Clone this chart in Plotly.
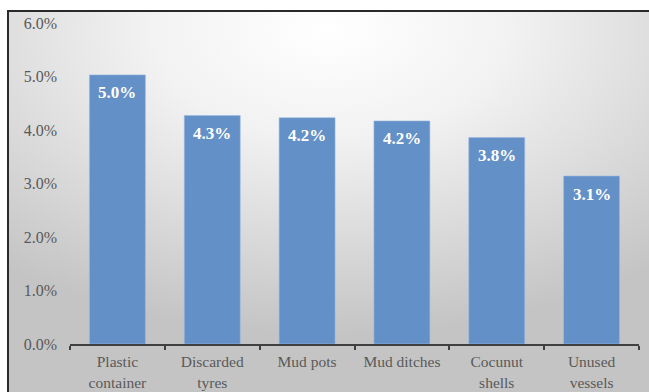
import base64
import plotly.graph_objects as go

categories = ["Plastic<br>container", "Discarded<br>tyres", "Mud pots", "Mud ditches", "Cocunut<br>shells", "Unused<br>vessels"]
values = [5.03, 4.27, 4.23, 4.17, 3.86, 3.14]
labels = ["5.0%", "4.3%", "4.2%", "4.2%", "3.8%", "3.1%"]
y_ticks = [0, 1, 2, 3, 4, 5, 6]
y_ticktext = ["0.0%", "1.0%", "2.0%", "3.0%", "4.0%", "5.0%", "6.0%"]

W, H = 649, 392
L, R, T, B = 70, 10, 23, 48
pw, ph = W - L - R, H - T - B

def px_to_paper_x(px):
    return (px - L) / pw

def px_to_paper_y(py):
    return (H - B - py) / ph

svg = (
    '<svg xmlns="http://www.w3.org/2000/svg" width="641" height="381" preserveAspectRatio="none">'
    '<defs><radialGradient id="g" cx="50%" cy="5%" r="80%" fx="50%" fy="5%">'
    '<stop offset="0%" stop-color="#ffffff"/>'
    '<stop offset="35%" stop-color="#f2f2f2"/>'
    '<stop offset="100%" stop-color="#c4c4c4"/>'
    '</radialGradient></defs>'
    '<rect x="0" y="0" width="641" height="381" fill="url(#g)"/></svg>'
)
src = "data:image/svg+xml;base64," + base64.b64encode(svg.encode()).decode()

fig = go.Figure()
fig.add_trace(go.Bar(
    x=categories, y=values,
    marker=dict(color="#6390c6", line=dict(color="#9dbbe0", width=0.6)),
    hoverinfo="skip",
))

for c, v, t in zip(categories, values, labels):
    fig.add_annotation(x=c, y=v, text="<b>" + t + "</b>", showarrow=False,
                       yanchor="middle", yshift=-18,
                       font=dict(family="Liberation Serif", size=17, color="white"))

x0, x1 = px_to_paper_x(8), px_to_paper_x(W)
y1, y0 = px_to_paper_y(11), px_to_paper_y(H)

fig.add_layout_image(dict(source=src, xref="paper", yref="paper", x=x0, y=y1,
                          sizex=x1 - x0, sizey=y1 - y0, xanchor="left", yanchor="top",
                          sizing="stretch", layer="below"))
fig.add_shape(type="rect", xref="paper", yref="paper", x0=x0, x1=x1 + 0.05, y0=y0 - 0.05, y1=y1,
              line=dict(color="#2a2a2a", width=2), fillcolor="rgba(0,0,0,0)", layer="above")

fig.update_layout(
    width=W, height=H,
    margin=dict(l=L, r=R, t=T, b=B, autoexpand=False),
    paper_bgcolor="white", plot_bgcolor="rgba(0,0,0,0)",
    bargap=0.41,
    showlegend=False,
    font=dict(family="Liberation Serif", size=16, color="#595959"),
    xaxis=dict(showgrid=False, showline=True, linecolor="#404040", linewidth=1.5,
               automargin=False,
               ticks="outside", tickson="boundaries", ticklen=4, tickcolor="#404040",
               tickwidth=1.5, ticklabelstandoff=3, tickfont=dict(size=15.5, color="#595959")),
    yaxis=dict(range=[0, 6], showgrid=False, showline=False, zeroline=False,
               automargin=False,
               tickmode="array", tickvals=y_ticks, ticktext=y_ticktext,
               ticks="", ticklabelstandoff=12, tickfont=dict(size=16, color="#595959")),
)

fig.write_html("out.html")
